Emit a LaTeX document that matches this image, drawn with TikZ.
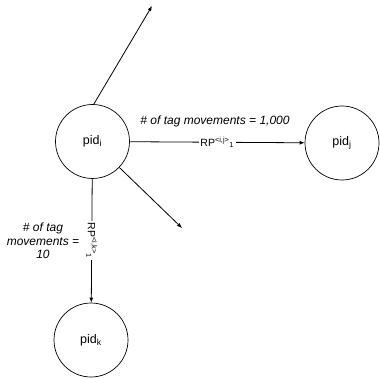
\documentclass[tikz,border=0pt]{standalone}
\usepackage{fontspec}
\setmainfont{Liberation Sans}
\usetikzlibrary{arrows.meta}
\begin{document}
\begin{tikzpicture}[x=1pt,y=-1pt,
  pnode/.style={circle,draw,line width=0.7pt,minimum size=74pt,inner sep=0pt,font=\fontsize{12.5}{14}\selectfont},
  conn/.style={line width=0.8pt,-{Latex[length=5pt,width=4pt]}},
  lbl/.style={font=\itshape\fontsize{12}{13.5}\selectfont,align=center,inner sep=0pt},
  rp/.style={font=\fontsize{10.5}{12}\selectfont,fill=white,inner sep=1.5pt}]
\useasboundingbox (0,0) rectangle (379,379);
\node[pnode] (i) at (92.5,141.5) {pid\textsubscript{i}};
\node[pnode] (j) at (342,143) {pid\textsubscript{j}};
\node[pnode] (k) at (91,340) {pid\textsubscript{k}};
\coordinate (up) at (152,6);
\coordinate (dr) at (182,228);
\draw[conn] (i.88) -- (up);
\draw[conn] (i) -- (dr);
\draw[conn] (i) -- node[rp,midway] (rpij) {RP\textsuperscript{<i,j>}\textsubscript{1}} (j);
\draw[conn] (i) -- node[rp,midway,rotate=-90] (rpik) {RP\textsuperscript{<i,k>}\textsubscript{1}} (k);
\node[lbl] (tij) at (215,121) {\# of tag movements = 1,000};
\node[lbl] (tik) at (43,241) {\# of tag\\movements =\\10};
\end{tikzpicture}
\end{document}
